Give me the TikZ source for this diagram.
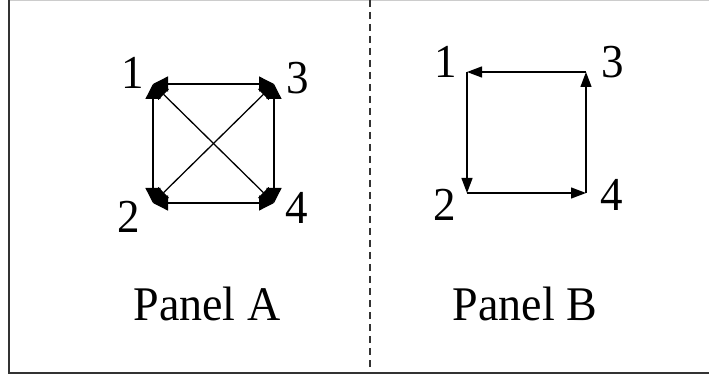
\documentclass[tikz,border=0pt]{standalone}
\usepackage{fontspec}
\setmainfont{Liberation Serif}
\usetikzlibrary{arrows.meta}
\begin{document}
\begin{tikzpicture}[x=1pt,y=-1pt,
  num/.style={font=\fontsize{45}{45}\selectfont,inner sep=0pt,yscale=1.05},
  ptitle/.style={font=\fontsize{46}{46}\selectfont,inner sep=0pt,yscale=1.05},
  edge/.style={line width=1.3pt},
  bi/.style={edge,{Triangle[length=15pt,width=15pt]}-{Triangle[length=15pt,width=15pt]}},
  one/.style={edge,-{Triangle[length=15pt,width=11pt]}}]
\useasboundingbox (0,0) rectangle (709,379);
\fill[white] (0,0) rectangle (709,379);
% frame
\draw[line width=0.8pt,black!20] (9,0.5) -- (709,0.5);
\draw[line width=2pt,black!80] (9,0) -- (9,373) -- (709,373);
\draw[line width=1.3pt,black!80,dash pattern=on 7pt off 5pt] (370,0) -- (370,373);
% Panel A
\coordinate (a1) at (153,84);
\coordinate (a3) at (274,84);
\coordinate (a2) at (153,203);
\coordinate (a4) at (274,203);
\draw[bi] (a1) -- (a3);
\draw[bi] (a2) -- (a4);
\draw[bi] (a1) -- (a2);
\draw[bi] (a3) -- (a4);
\draw[bi] (a1) -- (a4);
\draw[bi] (a3) -- (a2);
\node[num] (la1) at (133,73) {1};
\node[num] (la3) at (298,78) {3};
\node[num] (la2) at (129,217) {2};
\node[num] (la4) at (297,208) {4};
\node[ptitle] (pa) at (207,304) {Panel A};
% Panel B
\coordinate (b1) at (467,72);
\coordinate (b3) at (586,72);
\coordinate (b2) at (467,193);
\coordinate (b4) at (586,193);
\draw[one] (b3) -- (b1);
\draw[one] (b1) -- (b2);
\draw[one] (b2) -- (b4);
\draw[one] (b4) -- (b3);
\node[num] (lb1) at (446,62) {1};
\node[num] (lb3) at (613,62) {3};
\node[num] (lb2) at (445,205) {2};
\node[num] (lb4) at (612,195) {4};
\node[ptitle] (pb) at (525,304) {Panel B};
\end{tikzpicture}
\end{document}
